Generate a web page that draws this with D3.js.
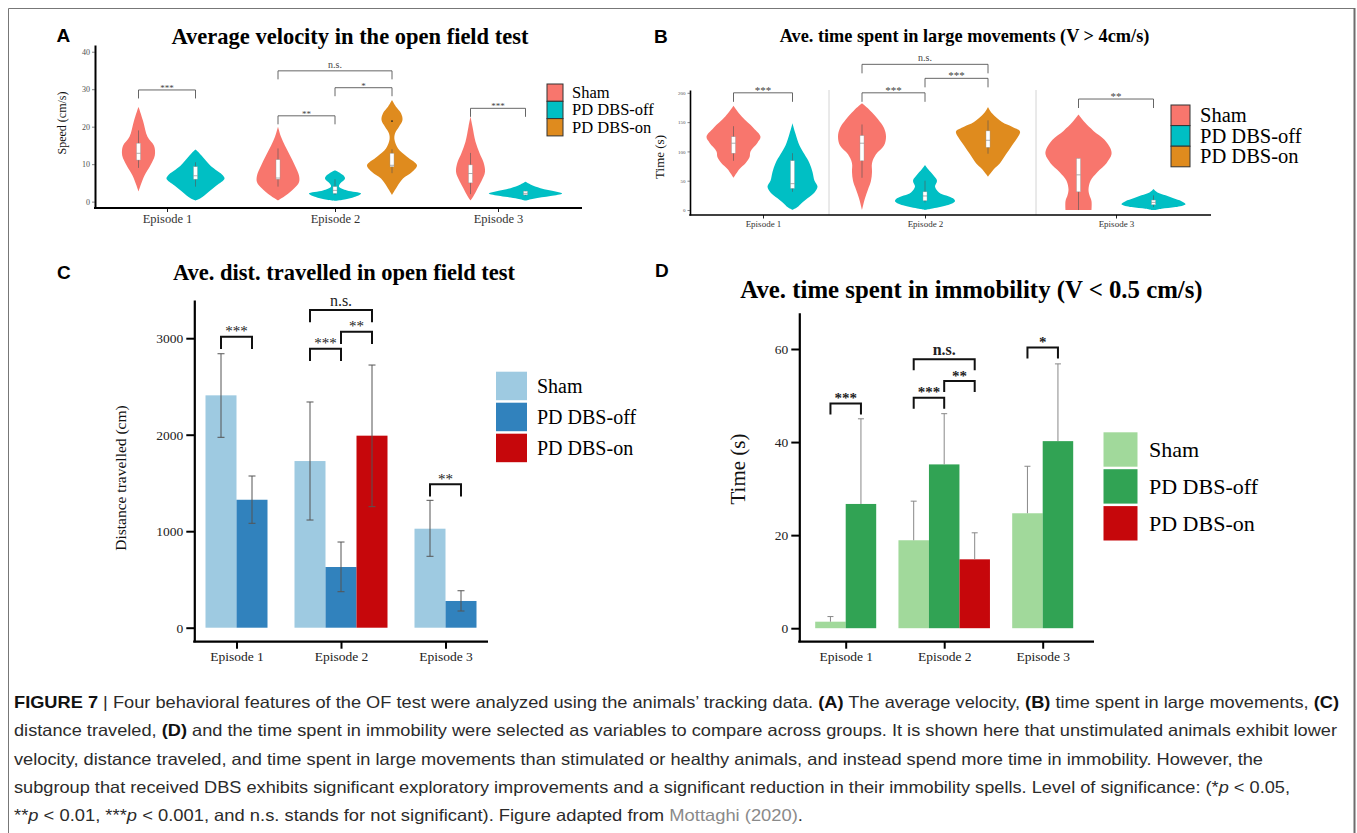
<!DOCTYPE html>
<html>
<head>
<meta charset="utf-8">
<script src="https://cdn.jsdelivr.net/npm/d3@7"></script>
<style>
  body { margin: 0; background: #fff; }
  svg { display: block; }
</style>
</head>
<body>
<script>
// ---- data ----
const episodes = ['Episode 1', 'Episode 2', 'Episode 3'];
const groups = ['Sham', 'PD DBS-off', 'PD DBS-on'];

// violins (A, B): which [episode, group] pairs exist, in drawing order
const violinKeys = [[0, 0], [0, 1], [1, 0], [1, 1], [1, 2], [2, 0], [2, 1]];

// A: speed profiles [value, relative density]
const velocityProfiles = [
  [[2.7, 0], [4.3, 2], [7, 6], [9.6, 11.7], [12.3, 16.3], [14.9, 15.5], [17.3, 9], [21.6, 4.5], [25.3, 0]],
  [[0.3, 0], [0.9, 5], [2.6, 13], [4.3, 21], [6.1, 29], [7, 27.5], [9.6, 15], [12.3, 6], [13.3, 2.5], [13.9, 0]],
  [[0.3, 0], [1.7, 8], [3.5, 16], [5.2, 21], [7, 21], [9.6, 17], [12.3, 12], [14.9, 7], [17.3, 3], [20, 0]],
  [[0.2, 0], [0.5, 8], [1.3, 20], [2.2, 26], [3, 12], [4, 4], [4.8, 5], [6.2, 10], [7.1, 8], [8.4, 0]],
  [[1.8, 0], [4, 5], [6.2, 11], [7.9, 20], [9.7, 25], [12, 15], [14.2, 6], [16.5, 2.5], [18.2, 3], [20, 7], [21.8, 10.5], [23.6, 9], [25.3, 4], [27.1, 0]],
  [[0.3, 0], [1.5, 3], [3.5, 7], [5.5, 11], [8, 14.5], [10.5, 13], [13, 9], [16, 5], [20, 2], [22.7, 0]],
  [[0.3, 0], [0.8, 8], [1.5, 25], [2.2, 36.7], [2.7, 30], [3.6, 15], [4.6, 5], [5.3, 0]]
];
// [lower whisker, q1, median, q3, upper whisker]
const velocityBoxes = [
  [9, 11.1, 12.9, 15.6, 19], [4, 6, 6.9, 9.3, 10.5], [4, 6, 6.3, 11.2, 14.2],
  [1.8, 2.2, 3, 4, 6], [7.6, 9.3, 9.7, 12.9, 14], [2, 5, 7.5, 9.8, 13], [1.6, 1.8, 2.2, 2.8, 2.9]
];
const velocityOutliers = [[1, 2, 21.5]];
// [episode, group a, group b, bracket value, label]
const velocitySig = [
  [0, 0, 1, 29.8, '***'], [1, 0, 1, 22.9, '**'], [1, 1, 2, 30.4, '*'],
  [1, 0, 2, 34.9, 'n.s.'], [2, 0, 1, 24.9, '***']
];
const velocityTicks = [0, 10, 20, 30, 40];

// B: time in large movements
const movementProfiles = [
  [[55, 0], [70, 6], [80, 12], [90, 16], [100, 17], [115, 24], [125, 27], [140, 20], [160, 8], [178, 0]],
  [[0, 0], [5, 5], [10, 8], [20, 15], [30, 22], [40, 25], [50, 22], [65, 20], [80, 17], [95, 12], [110, 7], [130, 3], [148, 0]],
  [[0, 0], [20, 3], [35, 6], [50, 9], [65, 10], [80, 10], [95, 14], [110, 22], [125, 24], [140, 22], [155, 16], [170, 8], [182, 0]],
  [[0, 0], [2, 6], [8, 22], [15, 30], [20, 28], [30, 14], [40, 10], [50, 12], [60, 8], [70, 3], [77, 0]],
  [[57, 0], [70, 6], [80, 12], [95, 18], [110, 24], [125, 30], [134, 32], [142, 24], [150, 14], [165, 4], [176, 0]],
  [[0, 13], [15, 13], [25, 11], [35, 10], [50, 12], [65, 19], [80, 28], [95, 33], [105, 32], [120, 26], [135, 15], [150, 6], [163, 0]],
  [[0, 2], [2, 8], [5, 22], [10, 32], [15, 28], [20, 20], [25, 12], [30, 4], [36, 0]]
];
const movementBoxes = [
  [84, 97, 114, 125, 143], [31, 37, 45, 84, 97], [55, 84, 114, 127, 146],
  [13, 16, 24, 31, 50], [96, 107, 119, 135, 153], [0, 31, 60, 88, 88], [5, 9, 13, 17, 25]
];
const movementSig = [
  [0, 0, 1, 200, '***'], [1, 0, 1, 200, '***'], [1, 1, 2, 224.7, '***'],
  [1, 0, 2, 248.6, 'n.s.'], [2, 0, 1, 189.4, '**']
];
const movementTicks = [0, 50, 100, 150, 200];

// C: distance travelled (mean, [low, high] error)
const distSham = [2408, 1727, 1026];
const distOff = [1326, 629, 277];
const distOn = [null, 1990, null];
const distShamErr = [[1973, 2839], [1116, 2339], [740, 1320]];
const distOffErr = [[1082, 1572], [373, 888], [173, 383]];
const distOnErr = [null, [1254, 2722], null];
const distSig = [
  [0, 0, 1, 3016, '***'], [1, 0, 1, 2891, '***'], [1, 1, 2, 3067, '**'],
  [1, 0, 2, 3292, 'n.s.'], [2, 0, 1, 1486, '**']
];
const distTicks = [0, 1000, 2000, 3000];

// D: immobility time (mean, upper error only)
const immSham = [1.4, 18.9, 24.7];
const immOff = [26.7, 35.2, 40.2];
const immOn = [null, 14.8, null];
const immShamErr = [[1.4, 2.5], [18.9, 27.3], [24.7, 34.8]];
const immOffErr = [[26.7, 45.0], [35.2, 46.1], [40.2, 56.8]];
const immOnErr = [null, [14.8, 20.5], null];
const immSig = [
  [0, 0, 1, 48.3, '***'], [1, 0, 1, 49.5, '***'], [1, 1, 2, 53.1, '**'],
  [1, 0, 2, 57.8, 'n.s.'], [2, 0, 1, 60.3, '*']
];
const immTicks = [0, 20, 40, 60];

// ---- drawing ----
const serif = '"Liberation Serif", "Times New Roman", serif';
const sans = '"Liberation Sans", Arial, Helvetica, sans-serif';
const violinColors = ['#f8766d', '#00bfc4', '#df8b1e'];
const distColors = ['#9ecae1', '#3182bd', '#c6070b'];
const immColors = ['#a1d99b', '#31a354', '#c6070b'];

const svg = d3.select('body').append('svg')
  .attr('width', 1357)
  .attr('height', 833);

// frame around the figure
svg.append('path')
  .attr('d', 'M8.5,833V8.5H1354')
  .attr('fill', 'none')
  .attr('stroke', '#777')
  .attr('stroke-width', 1);
svg.append('line')
  .attr('x1', 1354.5).attr('x2', 1354.5).attr('y1', 8).attr('y2', 833)
  .attr('stroke', '#6d6d6d').attr('stroke-width', 2);

function text(g, x, y, str, size, opts) {
  opts = opts || {};
  return g.append('text')
    .attr('x', x)
    .attr('y', y)
    .attr('font-family', opts.family || serif)
    .attr('font-size', size)
    .attr('font-weight', opts.weight || 'normal')
    .attr('fill', opts.fill || '#000')
    .attr('text-anchor', opts.anchor || 'start')
    .text(str);
}

function bracket(g, x1, x2, yTop, drop, style) {
  g.append('path')
    .attr('d', 'M' + x1 + ',' + (yTop + drop) + 'V' + yTop + 'H' + x2 + 'V' + (yTop + drop))
    .attr('fill', 'none')
    .attr('stroke', style.stroke)
    .attr('stroke-width', style.width);
}

function legend(g, x, y, size, step, colors, fs, textX, border) {
  groups.forEach(function (name, i) {
    g.append('rect')
      .attr('x', x)
      .attr('y', y + i * step)
      .attr('width', size[0])
      .attr('height', size[1])
      .attr('fill', colors[i])
      .attr('stroke', border ? '#333' : 'none')
      .attr('stroke-width', border ? 1 : 0);
    text(g, textX, y + i * step + size[1] / 2 + fs * 0.33, name, fs);
  });
}

function violinPanel(o) {
  const g = svg.append('g');
  const y = d3.scaleLinear().domain(o.yDomain).range(o.yRange);
  const x = d3.scaleLinear().domain([0, 1, 2]).range(o.centers);
  const w = d3.scaleLinear().domain([0, 1]).range([0, o.halfUnit]);
  const gx = function (ep, gi) {
    const present = violinKeys.filter(function (k) { return k[0] === ep; }).map(function (k) { return k[1]; });
    return x(ep) + (present.indexOf(gi) - (present.length - 1) / 2) * o.dodge[ep];
  };

  (o.separators || []).forEach(function (sx) {
    g.append('line')
      .attr('x1', sx).attr('x2', sx)
      .attr('y1', o.yRange[1]).attr('y2', o.yRange[0])
      .attr('stroke', '#d4d4d4').attr('stroke-width', 1);
  });

  violinKeys.forEach(function (k, i) {
    const cx = gx(k[0], k[1]);
    const area = d3.area()
      .curve(d3.curveCatmullRom)
      .x0(function (d) { return cx - w(d[1]); })
      .x1(function (d) { return cx + w(d[1]); })
      .y(function (d) { return y(d[0]); });
    g.append('path')
      .attr('d', area(o.profiles[i]))
      .attr('fill', violinColors[k[1]]);
    const b = o.boxes[i];
    g.append('line')
      .attr('x1', cx).attr('x2', cx)
      .attr('y1', y(b[0])).attr('y2', y(b[4]))
      .attr('stroke', '#555').attr('stroke-width', 0.6);
    g.append('rect')
      .attr('x', cx - o.boxW / 2)
      .attr('width', o.boxW)
      .attr('y', y(b[3]))
      .attr('height', y(b[1]) - y(b[3]))
      .attr('fill', '#fff')
      .attr('stroke', '#999')
      .attr('stroke-width', 0.4);
    g.append('line')
      .attr('x1', cx - o.boxW / 2).attr('x2', cx + o.boxW / 2)
      .attr('y1', y(b[2])).attr('y2', y(b[2]))
      .attr('stroke', '#777').attr('stroke-width', 0.6);
  });

  (o.outliers || []).forEach(function (p) {
    g.append('circle')
      .attr('cx', gx(p[0], p[1]))
      .attr('cy', y(p[2]))
      .attr('r', 0.9)
      .attr('fill', '#222');
  });

  o.sig.forEach(function (s) {
    const x1 = gx(s[0], s[1]);
    const x2 = gx(s[0], s[2]);
    bracket(g, x1, x2, y(s[3]), o.drop, { stroke: '#555', width: 0.9 });
    text(g, (x1 + x2) / 2, y(s[3]) + (s[4] === 'n.s.' ? -3 : 1), s[4], s[4] === 'n.s.' ? o.nsSize : o.starSize,
      { anchor: 'middle', fill: '#444' });
  });

  // axes
  const yAxis = d3.axisLeft(y).tickValues(o.yTicks).tickSize(o.tickLen).tickSizeOuter(0).tickPadding(2);
  g.append('g')
    .attr('transform', 'translate(' + o.axisX + ',0)')
    .call(yAxis)
    .call(function (a) {
      a.select('.domain').attr('stroke', '#000').attr('stroke-width', o.axisW);
      a.selectAll('.tick line').attr('stroke', '#333').attr('stroke-width', 0.6);
      a.selectAll('text').attr('font-family', serif).attr('font-size', o.yTickSize).attr('fill', '#4d4d4d');
    });
  const xAxis = d3.axisBottom(x).tickValues([0, 1, 2])
    .tickFormat(function (i) { return episodes[i]; })
    .tickSize(o.tickLen + 1).tickPadding(2);
  g.append('g')
    .attr('transform', 'translate(0,' + o.axisY + ')')
    .call(xAxis)
    .call(function (a) {
      a.select('.domain').remove();
      a.selectAll('.tick line').attr('stroke', '#222').attr('stroke-width', 1);
      a.selectAll('text').attr('font-family', serif).attr('font-size', o.xTickSize).attr('fill', '#333');
    });
  g.append('line')
    .attr('x1', o.axisX - o.axisW / 2).attr('x2', o.xEnd)
    .attr('y1', o.axisY).attr('y2', o.axisY)
    .attr('stroke', '#000').attr('stroke-width', o.axisW);

  const t = text(g, 0, 0, o.yTitle, o.yTitleSize, { anchor: 'middle', fill: '#111' });
  t.attr('transform', 'translate(' + o.yTitlePos[0] + ',' + o.yTitlePos[1] + ') rotate(-90)');
  return g;
}

function barPanel(o) {
  const g = svg.append('g');
  const y = d3.scaleLinear().domain(o.yDomain).range(o.yRange);
  const x = d3.scalePoint().domain(episodes).range(o.xRange);
  const gx = function (ei, gi) {
    const present = [0, 1, 2].filter(function (k) { return o.series[k][ei] != null; });
    return x(episodes[ei]) + (present.indexOf(gi) - (present.length - 1) / 2) * o.barW;
  };

  episodes.forEach(function (ep, ei) {
    o.series.forEach(function (s, gi) {
      if (s[ei] == null) return;
      const cx = gx(ei, gi);
      g.append('rect')
        .attr('x', cx - o.barW / 2)
        .attr('width', o.barW)
        .attr('y', y(s[ei]))
        .attr('height', y(0) - y(s[ei]))
        .attr('fill', o.colors[gi]);
    });
  });
  // error bars on top of the bars
  episodes.forEach(function (ep, ei) {
    o.errors.forEach(function (e, gi) {
      if (e[ei] == null) return;
      const cx = gx(ei, gi);
      g.append('path')
        .attr('d', 'M' + cx + ',' + y(e[ei][0]) + 'V' + y(e[ei][1]) +
          'M' + (cx - o.cap) + ',' + y(e[ei][1]) + 'H' + (cx + o.cap) +
          (o.lowCap ? 'M' + (cx - o.cap) + ',' + y(e[ei][0]) + 'H' + (cx + o.cap) : ''))
        .attr('fill', 'none')
        .attr('stroke', o.errColor)
        .attr('stroke-width', 1);
    });
  });

  o.sig.forEach(function (s) {
    const x1 = gx(s[0], s[1]);
    const x2 = gx(s[0], s[2]);
    bracket(g, x1, x2, y(s[3]), o.drop, { stroke: '#111', width: 2 });
    const ns = s[4] === 'n.s.';
    text(g, (x1 + x2) / 2, y(s[3]) + (ns ? -4 : -0.5), s[4], ns ? o.nsSize : o.starSize,
      { anchor: 'middle', fill: '#222', weight: o.sigWeight });
  });

  const yAxis = d3.axisLeft(y).tickValues(o.yTicks).tickFormat(d3.format('d'))
    .tickSize(8).tickSizeOuter(0).tickPadding(3);
  g.append('g')
    .attr('transform', 'translate(' + o.axisX + ',0)')
    .call(yAxis)
    .call(function (a) {
      a.select('.domain').attr('stroke', '#000').attr('stroke-width', 2.2);
      a.selectAll('.tick line').attr('stroke', '#000').attr('stroke-width', 2);
      a.selectAll('text').attr('font-family', serif).attr('font-size', o.tickSize).attr('fill', '#222');
    });
  const xAxis = d3.axisBottom(x).tickSize(7).tickPadding(3);
  g.append('g')
    .attr('transform', 'translate(0,' + o.axisY + ')')
    .call(xAxis)
    .call(function (a) {
      a.select('.domain').remove();
      a.selectAll('.tick line').attr('stroke', '#000').attr('stroke-width', 2);
      a.selectAll('text').attr('font-family', serif).attr('font-size', o.tickSize).attr('fill', '#222');
    });
  g.append('line')
    .attr('x1', o.axisX - 1.1).attr('x2', o.xEnd)
    .attr('y1', o.axisY).attr('y2', o.axisY)
    .attr('stroke', '#000').attr('stroke-width', 2.2);

  const t = text(g, 0, 0, o.yTitle, o.yTitleSize, { anchor: 'middle', fill: '#111' });
  t.attr('transform', 'translate(' + o.yTitlePos[0] + ',' + o.yTitlePos[1] + ') rotate(-90)');
  return g;
}

// Panel A
const gA = violinPanel({
  profiles: velocityProfiles, boxes: velocityBoxes, outliers: velocityOutliers, sig: velocitySig,
  yDomain: [-1.7, 41.8], yRange: [208, 45], yTicks: velocityTicks,
  centers: [167, 335, 498], dodge: [57, 57, 55], halfUnit: 1,
  boxW: 4, drop: 8.5, starSize: 9, nsSize: 10,
  axisX: 95, axisY: 208, xEnd: 582, axisW: 2, tickLen: 3,
  yTickSize: 8, xTickSize: 12.5,
  yTitle: 'Speed (cm/s)', yTitleSize: 12, yTitlePos: [66, 123]
});
text(svg, 56.5, 41.7, 'A', 19, { family: sans, weight: 'bold' });
text(svg, 350, 44, 'Average velocity in the open field test', 22.5, { weight: 'bold', anchor: 'middle' });
legend(gA, 547, 84, [16, 17.3], 17.3, violinColors, 16.5, 572, true);

// Panel B
const gB = violinPanel({
  profiles: movementProfiles, boxes: movementBoxes, sig: movementSig,
  yDomain: [-8.5, 204.8], yRange: [215, 90], yTicks: movementTicks,
  centers: [763, 925, 1116], dodge: [59, 63, 75], halfUnit: 1,
  separators: [829, 1036],
  boxW: 4, drop: 9, starSize: 11, nsSize: 10,
  axisX: 690, axisY: 215, xEnd: 1211, axisW: 1.6, tickLen: 2.5,
  yTickSize: 5, xTickSize: 9,
  yTitle: 'Time (s)', yTitleSize: 13, yTitlePos: [664, 157]
});
text(svg, 654, 42.7, 'B', 19, { family: sans, weight: 'bold' });
text(svg, 964.5, 41.5, 'Ave. time spent in large movements (V > 4cm/s)', 18.3, { weight: 'bold', anchor: 'middle' });
legend(gB, 1171, 105, [19, 20.6], 20.6, violinColors, 20.5, 1200, true);

// Panel C
const gC = barPanel({
  series: [distSham, distOff, distOn], errors: [distShamErr, distOffErr, distOnErr], sig: distSig,
  colors: distColors, yDomain: [-145, 3396], yRange: [641.7, 300], yTicks: distTicks,
  xRange: [236.5, 445.5], barW: 31, cap: 3.5, lowCap: true, errColor: '#555',
  drop: 12.3, starSize: 15, nsSize: 16, sigWeight: 'normal',
  axisX: 194.3, axisY: 641.7, xEnd: 488, tickSize: 13.5,
  yTitle: 'Distance travelled (cm)', yTitleSize: 15.5, yTitlePos: [126, 478]
});
text(svg, 57, 279.3, 'C', 19, { family: sans, weight: 'bold' });
text(svg, 344, 280, 'Ave. dist. travelled in open field test', 22.5, { weight: 'bold', anchor: 'middle' });
legend(gC, 496, 371.7, [31, 28.5], 31, distColors, 20, 537, false);

// Panel D
const gD = barPanel({
  series: [immSham, immOff, immOn], errors: [immShamErr, immOffErr, immOnErr], sig: immSig,
  colors: immColors, yDomain: [-2.9, 67.8], yRange: [641.7, 312.7], yTicks: immTicks,
  xRange: [845.7, 1042.7], barW: 30.5, cap: 3, lowCap: false, errColor: '#888',
  drop: 11, starSize: 15, nsSize: 16, sigWeight: 'bold',
  axisX: 799.3, axisY: 641.7, xEnd: 1094, tickSize: 13.5,
  yTitle: 'Time (s)', yTitleSize: 21, yTitlePos: [745, 469]
});
text(svg, 655, 276.5, 'D', 19, { family: sans, weight: 'bold' });
text(svg, 971.5, 298, 'Ave. time spent in immobility (V < 0.5 cm/s)', 24.8, { weight: 'bold', anchor: 'middle' });
legend(gD, 1103.5, 432.3, [34, 34.4], 36.9, immColors, 22, 1149, false);

// ---- caption ----
const captionLines = [
  [['b', 'FIGURE 7'], ['n', ' | Four behavioral features of the OF test were analyzed using the animals\u2019 tracking data. '], ['b', '(A)'],
    ['n', ' The average velocity, '], ['b', '(B)'], ['n', ' time spent in large movements, '], ['b', '(C)']],
  [['n', 'distance traveled, '], ['b', '(D)'], ['n', ' and the time spent in immobility were selected as variables to compare across groups. It is shown here that unstimulated animals exhibit lower']],
  [['n', 'velocity, distance traveled, and time spent in large movements than stimulated or healthy animals, and instead spend more time in immobility. However, the']],
  [['n', 'subgroup that received DBS exhibits significant exploratory improvements and a significant reduction in their immobility spells. Level of significance: (*'],
    ['i', 'p'], ['n', ' < 0.05,']],
  [['n', '**'], ['i', 'p'], ['n', ' < 0.01, ***'], ['i', 'p'], ['n', ' < 0.001, and n.s. stands for not significant). Figure adapted from '],
    ['g', 'Mottaghi (2020)'], ['n', '.']]
];
const captionWidths = [1325, 1323, 1249, 1276, 789];
const cap = svg.append('g');
captionLines.forEach(function (line, li) {
  const t = cap.append('text')
    .attr('x', 14)
    .attr('y', 708 + li * 28.3)
    .attr('font-family', sans)
    .attr('font-size', 16.5)
    .attr('fill', '#2b2b2b')
    .attr('textLength', captionWidths[li])
    .attr('lengthAdjust', 'spacingAndGlyphs');
  line.forEach(function (seg) {
    const s = t.append('tspan').text(seg[1]);
    if (seg[0] === 'b') s.attr('font-weight', 'bold').attr('fill', '#111');
    if (seg[0] === 'i') s.attr('font-style', 'italic');
    if (seg[0] === 'g') s.attr('fill', '#8a8a8a');
  });
});
</script>
</body>
</html>
